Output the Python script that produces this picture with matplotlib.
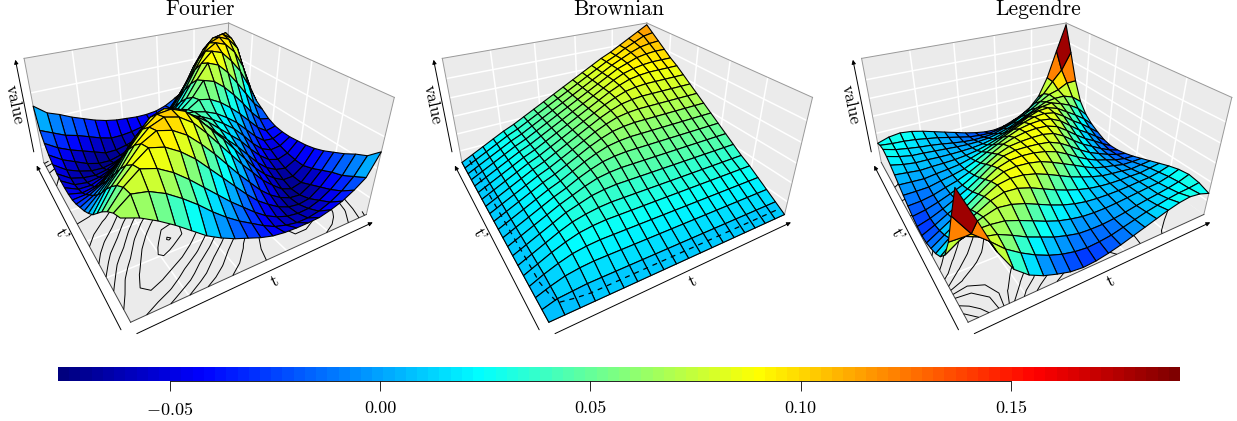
import numpy as np
import matplotlib
matplotlib.use("Agg")
import matplotlib.pyplot as plt
from matplotlib.cm import ScalarMappable
from matplotlib.colors import LinearSegmentedColormap, Normalize
from mpl_toolkits.mplot3d import proj3d
from mpl_toolkits.mplot3d.art3d import Poly3DCollection

plt.rcParams["font.family"] = ["cmr10", "DejaVu Serif"]
plt.rcParams["mathtext.fontset"] = "cm"
plt.rcParams["axes.formatter.use_mathtext"] = True

W, H = 1237, 421

TITLES = ["Fourier", "Brownian", "Legendre"]
JET_COLORS = ["#00007F", "blue", "#007FFF", "cyan", "#7FFF7F", "yellow", "#FF7F00", "red", "#7F0000"]
BAR_TICKS = [-0.05, 0.00, 0.05, 0.10, 0.15]
BAR_LABELS = ["$-0.05$", "0.00", "0.05", "0.10", "0.15"]
T_TICKS = [0.2, 0.4, 0.6, 0.8]
Z_LIMITS = [(-0.080, 0.107), (0.006, 0.120), (-0.040, 0.255)]
Z_TICKS = [[-0.05, 0.0, 0.05], [0.02, 0.04, 0.06, 0.08, 0.10], [0.0, 0.05, 0.10, 0.15, 0.20]]
CONTOURS = [
    [-0.06, -0.04, -0.02, 0.0, 0.02, 0.04, 0.06, 0.08, 0.10, 0.105],
    [0.010],
    [-0.02, 0.0, 0.02, 0.04, 0.06, 0.08, 0.10, 0.15, 0.20],
]

# upper triangles in 1/1000, each row starts on the diagonal
FOURIER_ROWS = [
    [68, 60, 48, 34, 18, 2, -10, -20, -28, -36, -42, -45, -46, -46, -45, -40, -33, -22, -8, 27],
    [76, 72, 62, 48, 32, 14, -2, -16, -28, -40, -50, -56, -60, -60, -56, -48, -36, -18, 10],
    [88, 82, 70, 54, 36, 18, 0, -16, -32, -46, -56, -63, -66, -65, -58, -46, -28, 2],
    [97, 92, 80, 64, 44, 24, 4, -16, -34, -48, -60, -68, -71, -68, -54, -34, -8],
    [103, 98, 86, 68, 48, 26, 4, -16, -36, -52, -64, -72, -74, -62, -42, -16],
    [106, 101, 88, 68, 46, 24, 2, -18, -38, -54, -68, -75, -70, -50, -24],
    [103, 95, 78, 58, 38, 16, -6, -28, -46, -60, -70, -70, -56, -30],
    [90, 76, 58, 40, 22, 4, -16, -36, -52, -62, -66, -56, -34],
    [72, 60, 46, 30, 14, -2, -22, -40, -54, -60, -54, -36],
    [52, 46, 36, 24, 10, -8, -28, -44, -52, -50, -38],
    [45, 40, 32, 20, 6, -12, -30, -44, -46, -38],
    [52, 48, 38, 24, 8, -10, -28, -40, -36],
    [72, 66, 52, 34, 14, -8, -26, -30],
    [90, 83, 66, 44, 20, -4, -20],
    [100, 94, 76, 54, 24, -10],
    [105, 99, 82, 52, 8],
    [106, 99, 80, 30],
    [103, 92, 56],
    [97, 76],
    [84],
]
BROWNIAN_ROWS = [
    [6, 6, 6, 6, 6, 6, 6, 6, 6, 6, 6, 6, 6, 6, 6, 6, 6, 6, 6, 6],
    [10, 11, 12, 12, 12, 12, 12, 12, 12, 12, 12, 12, 12, 12, 12, 12, 12, 12, 12],
    [15, 17, 18, 18, 18, 18, 18, 18, 18, 18, 18, 18, 18, 18, 18, 18, 18, 18],
    [21, 23, 24, 24, 24, 24, 24, 24, 24, 24, 24, 24, 24, 24, 24, 24, 24],
    [27, 29, 30, 30, 30, 30, 30, 30, 30, 30, 30, 30, 30, 30, 30, 30],
    [32, 34, 35, 35, 35, 35, 35, 35, 35, 35, 35, 35, 35, 35, 35],
    [38, 40, 41, 41, 41, 41, 41, 41, 41, 41, 41, 41, 41, 41],
    [44, 46, 47, 47, 47, 47, 47, 47, 47, 47, 47, 47, 47],
    [50, 52, 53, 53, 53, 53, 53, 53, 53, 53, 53, 53],
    [56, 58, 59, 59, 59, 59, 59, 59, 59, 59, 59],
    [62, 64, 65, 65, 65, 65, 65, 65, 65, 65],
    [68, 70, 71, 71, 71, 71, 71, 71, 71],
    [74, 76, 77, 77, 77, 77, 77, 77],
    [80, 82, 83, 83, 83, 83, 83],
    [86, 88, 89, 89, 89, 89],
    [91, 93, 94, 94, 94],
    [97, 99, 100, 100],
    [103, 105, 106],
    [110, 112],
    [118],
]
LEGENDRE_ROWS = [
    [250, 175, 96, 40, 10, -8, -20, -30, -34, -32, -26, -18, -8, 2, 12, 22, 30, 34, 30, 20],
    [125, 95, 62, 38, 18, 2, -10, -18, -22, -20, -16, -8, 0, 8, 14, 20, 24, 26, 30],
    [80, 72, 56, 38, 24, 10, 0, -8, -10, -10, -7, -2, 4, 9, 13, 18, 24, 34],
    [72, 68, 56, 42, 28, 16, 8, 2, 0, 0, 2, 5, 8, 11, 13, 20, 30],
    [78, 74, 64, 50, 36, 24, 15, 9, 6, 5, 5, 6, 8, 9, 14, 22],
    [84, 82, 72, 58, 44, 32, 22, 14, 9, 6, 5, 5, 4, 8, 12],
    [88, 86, 78, 66, 52, 38, 27, 17, 9, 5, 2, -2, 0, 2],
    [90, 88, 82, 70, 56, 42, 27, 14, 6, 0, -7, -8, -8],
    [90, 88, 82, 72, 56, 38, 22, 9, 0, -10, -16, -18],
    [88, 86, 82, 70, 52, 32, 15, 2, -10, -20, -26],
    [88, 88, 82, 66, 44, 24, 8, -8, -22, -32],
    [90, 88, 78, 58, 36, 16, 0, -18, -34],
    [90, 86, 72, 50, 28, 10, -10, -30],
    [88, 82, 64, 42, 24, 2, -20],
    [84, 74, 56, 38, 18, -8],
    [78, 68, 56, 38, 10],
    [72, 72, 62, 40],
    [80, 95, 96],
    [125, 175],
    [250],
]

jet = LinearSegmentedColormap.from_list("jet_col", JET_COLORS, N=100)
norm = Normalize(vmin=-0.0766, vmax=0.1902)


def to_matrix(rows):
    n = len(rows)
    m = np.zeros((n, n))
    for j, row in enumerate(rows):
        m[j, j:] = row
        m[j:, j] = row
    return m / 1000.0


def draw_panel(fig, shift, rows, zlim, zticks, levels, dash):
    ax = fig.add_axes([0, 0, 1, 1], projection="3d", computed_zorder=False)
    # camera fitted to the box corners of the reference
    s = 365.45
    ax.set_xlim(0, 1)
    ax.set_ylim(0, 1)
    ax.set_zlim(*zlim)
    ax.view_init(elev=29.857, azim=-119.898)
    ax.set_proj_type("persp", focal_length=0.2352)
    ax.set_box_aspect((1, 1.0034, 0.5058))
    ax.set_position([(605.23 + shift - s / 2) / W, (H - 139.9 - s / 2) / H, s / W, s / H])
    ax.apply_aspect()
    ax.set_axis_off()
    ax.patch.set_alpha(0)
    z0, z1 = zlim

    walls = [
        [(0, 0, z0), (1, 0, z0), (1, 1, z0), (0, 1, z0)],
        [(0, 1, z0), (1, 1, z0), (1, 1, z1), (0, 1, z1)],
        [(1, 0, z0), (1, 1, z0), (1, 1, z1), (1, 0, z1)],
    ]
    ax.add_collection3d(Poly3DCollection(walls, facecolor="#EBEBEB", edgecolor="none", zorder=0))

    for t in T_TICKS:
        ax.plot3D([t, t], [0, 1], [z0, z0], color="white", lw=1.1, zorder=1)
        ax.plot3D([0, 1], [t, t], [z0, z0], color="white", lw=1.1, zorder=1)
        ax.plot3D([t, t], [1, 1], [z0, z1], color="white", lw=1.1, zorder=1)
        ax.plot3D([1, 1], [t, t], [z0, z1], color="white", lw=1.1, zorder=1)
    for z in zticks:
        ax.plot3D([0, 1], [1, 1], [z, z], color="white", lw=1.1, zorder=1)
        ax.plot3D([1, 1], [0, 1], [z, z], color="white", lw=1.1, zorder=1)
    for xs, ys, zs in [
        ([0, 1], [1, 1], [z1, z1]), ([1, 1], [1, 0], [z1, z1]),
        ([0, 0], [1, 1], [z0, z1]), ([1, 1], [0, 0], [z0, z1]), ([1, 1], [1, 1], [z0, z1]),
    ]:
        ax.plot3D(xs, ys, zs, color="#999999", lw=0.7, zorder=1)
    for xs, ys in [([0, 1], [0, 0]), ([0, 0], [0, 1])]:
        ax.plot3D(xs, ys, [z0, z0], color="#444444", lw=0.7, zorder=1)

    grid = np.linspace(0, 1, len(rows))
    X, Y = np.meshgrid(grid, grid)
    Z = to_matrix(rows)
    if not dash:
        ax.contour(X, Y, Z, levels=levels, zdir="z", offset=z0, colors="k", linewidths=0.7,
                   negative_linestyles="solid", zorder=2)
    ax.plot_surface(X, Y, Z, cmap=jet, norm=norm, rstride=1, cstride=1, edgecolor="k", linewidth=0.8, zorder=3)
    if dash:
        ax.contour(X, Y, Z, levels=levels, zdir="z", offset=z0, colors="k", linewidths=0.9,
                   linestyles=[(0, (4, 4))], zorder=4)

    m = ax.get_proj()

    def to_2d(x, y, z):
        return proj3d.proj_transform(x, y, z, m)[:2]

    arrow = dict(arrowstyle="-|>", lw=0.7, color="k", mutation_scale=6, shrinkA=0, shrinkB=0)
    ax.annotate("", xy=to_2d(0.985, -0.045, z0), xytext=to_2d(0.0, -0.045, z0), arrowprops=arrow, annotation_clip=False)
    ax.annotate("", xy=to_2d(-0.035, 0.99, z0), xytext=to_2d(-0.035, -0.01, z0), arrowprops=arrow, annotation_clip=False)
    ax.annotate("", xy=to_2d(-0.03, 1.03, z1 - 0.02 * (z1 - z0)), xytext=to_2d(-0.03, 1.03, z0 + 0.1 * (z1 - z0)),
                arrowprops=arrow, annotation_clip=False)
    for child in ax.get_children():
        child.set_clip_on(False)
    return ax


def main():
    fig = plt.figure(figsize=(W / 100, H / 100), dpi=100)
    shifts = [-418.2, 0.0, 419.3]
    for i, (title, rows) in enumerate(zip(TITLES, [FOURIER_ROWS, BROWNIAN_ROWS, LEGENDRE_ROWS])):
        draw_panel(fig, shifts[i], rows, Z_LIMITS[i], Z_TICKS[i], CONTOURS[i], i == 1)
        fig.text((200 + 419 * i) / W, 1 - 9 / H, title, ha="center", va="center", fontsize=15.5)
        fig.text((275 + 418 * i) / W, 1 - 281 / H, "t", ha="center", va="center", fontsize=12.5, rotation=25)
        fig.text((62 + 418 * i) / W, 1 - 235 / H, "t'", ha="center", va="center", fontsize=12.5, rotation=-60)
        fig.text((14 + 418 * i) / W, 1 - 105 / H, "value", ha="center", va="center", fontsize=12.5, rotation=-78)

    cax = fig.add_axes([58 / W, 1 - 381 / H, (1180 - 58) / W, 14 / H])
    cb = fig.colorbar(ScalarMappable(norm=norm, cmap=jet), cax=cax, orientation="horizontal", ticks=BAR_TICKS)
    cb.ax.set_xticklabels(BAR_LABELS, fontsize=13)
    cb.ax.tick_params(length=7, width=0.6, pad=7.5)
    cb.outline.set_visible(False)
    cb.ax.spines["bottom"].set_visible(True)
    cb.ax.spines["bottom"].set_bounds(BAR_TICKS[0], BAR_TICKS[-1])
    cb.ax.spines["bottom"].set_linewidth(0.6)

    fig.savefig("out.png", dpi=100)


if __name__ == "__main__":
    main()
